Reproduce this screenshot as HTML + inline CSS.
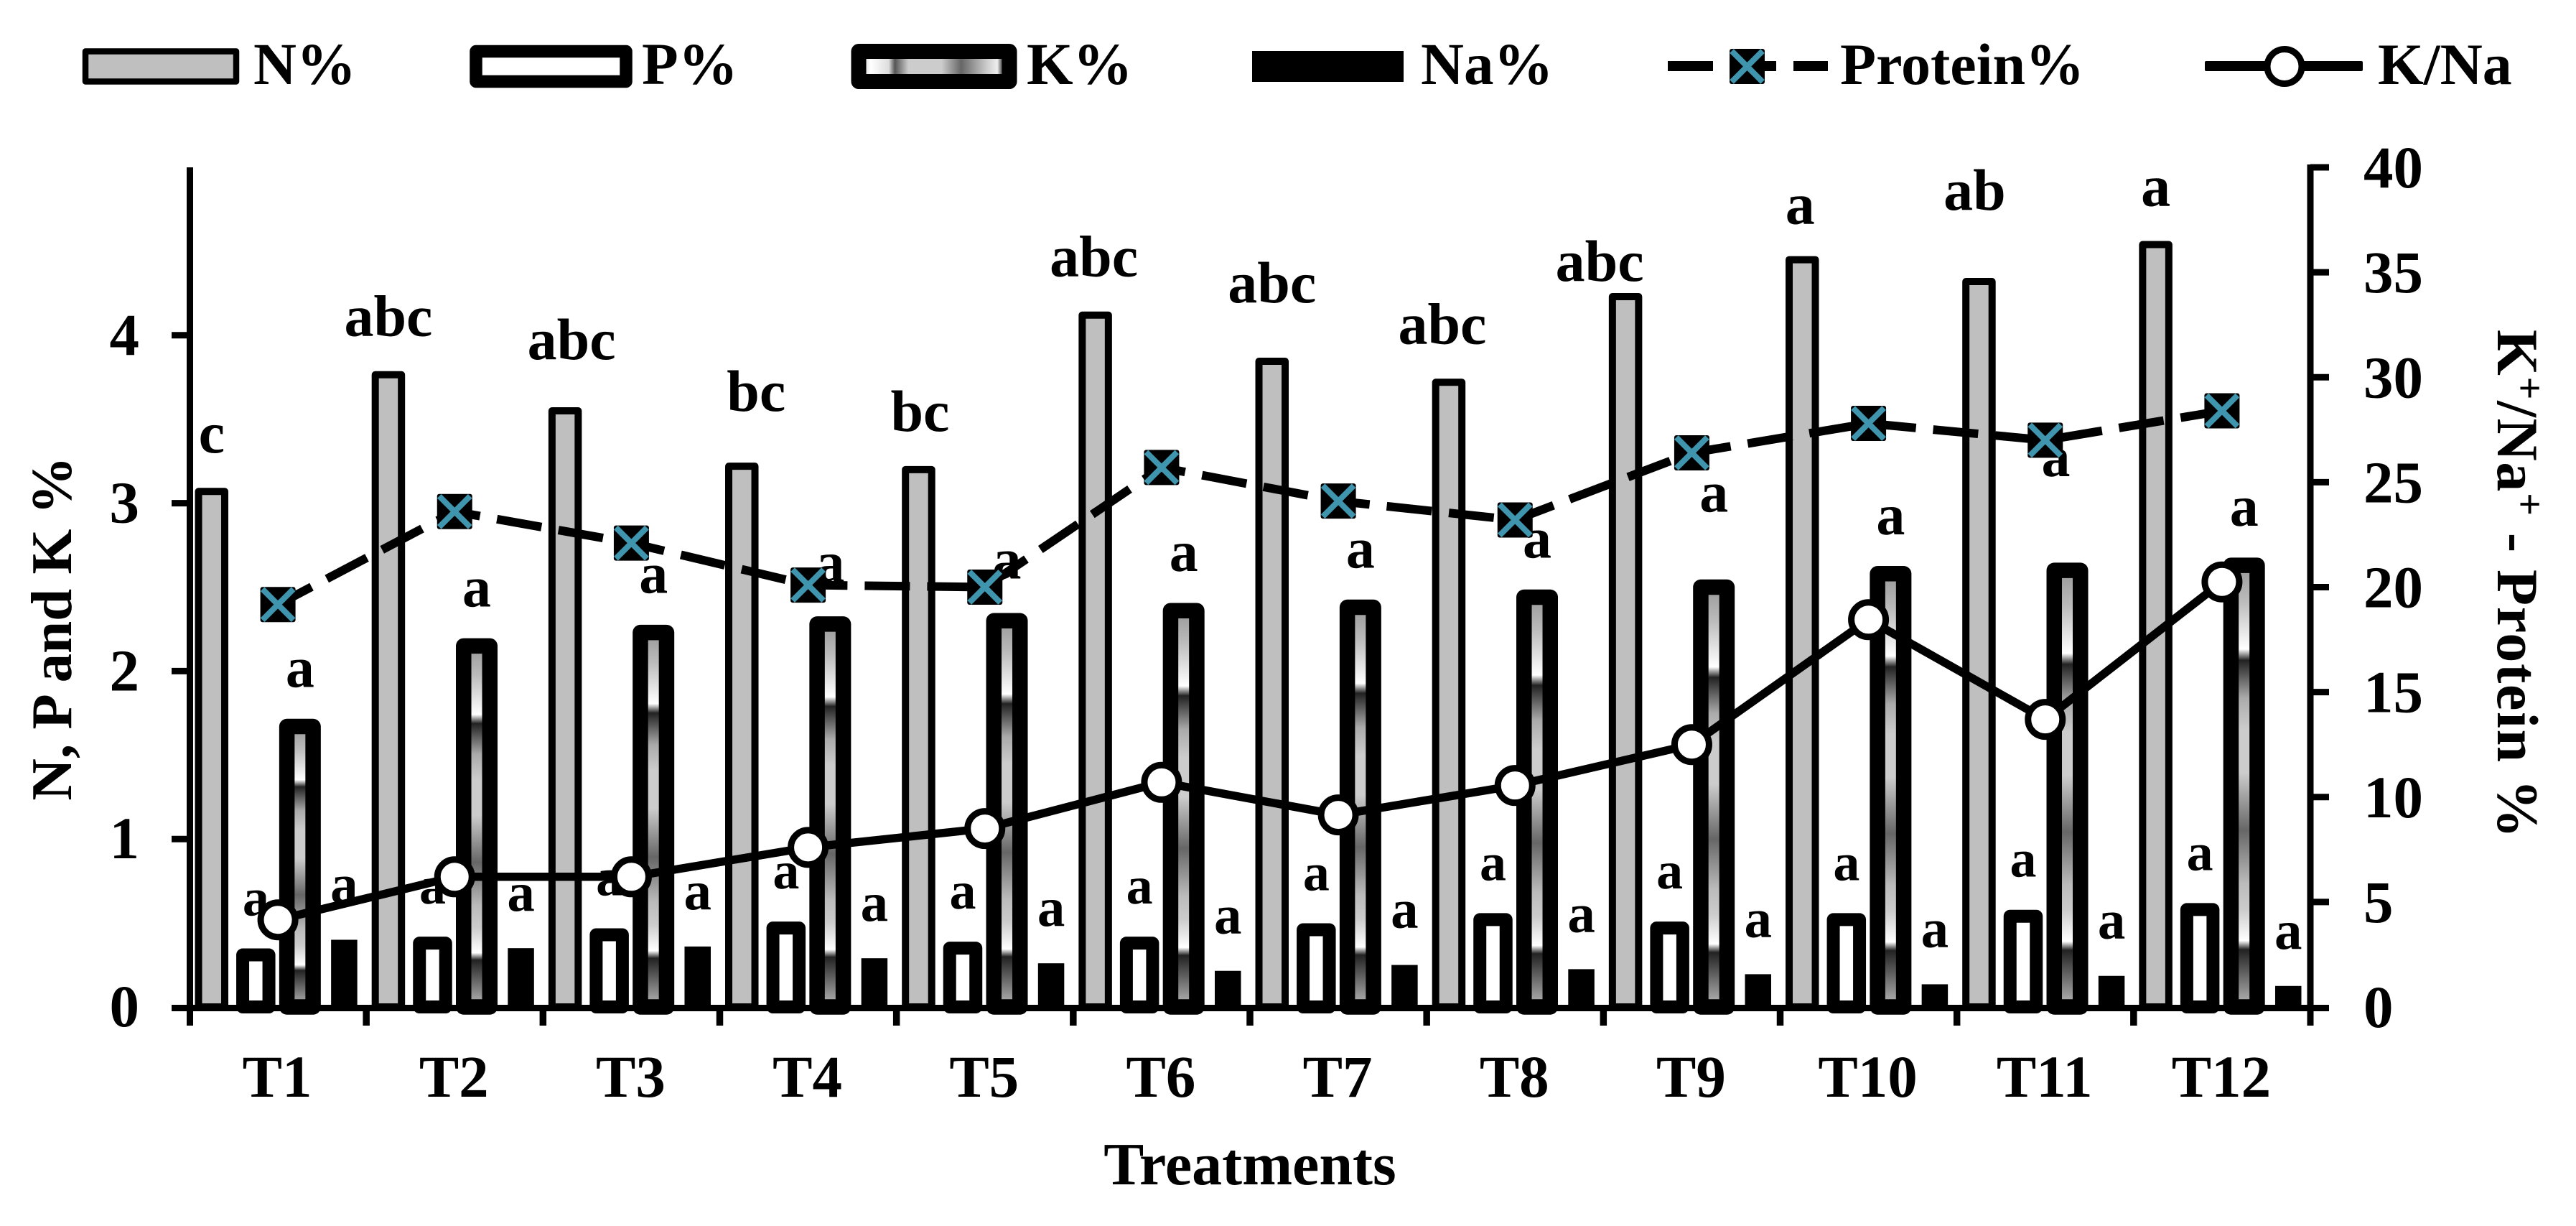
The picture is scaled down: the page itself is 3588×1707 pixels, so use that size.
<!DOCTYPE html>
<html lang="en">
<head>
<meta charset="utf-8">
<title>Treatments chart</title>
<style>
html,body{margin:0;padding:0;background:#fff;width:3588px;height:1707px;overflow:hidden}
svg{display:block}
text{font-family:"Liberation Serif","DejaVu Serif",serif;font-weight:bold;fill:#000}
</style>
</head>
<body>
<svg id="chart" xmlns="http://www.w3.org/2000/svg" width="3588" height="1707" viewBox="0 0 3588 1707">
  <defs>
    <linearGradient id="kv" x1="0" y1="0" x2="0" y2="1">
      <stop offset="0" stop-color="#999"/><stop offset=".08" stop-color="#bbb"/><stop offset=".19" stop-color="#fff"/>
      <stop offset=".215" stop-color="#222"/><stop offset=".3" stop-color="#aaa"/><stop offset=".37" stop-color="#ccc"/>
      <stop offset=".47" stop-color="#ccc"/><stop offset=".6" stop-color="#666"/><stop offset=".72" stop-color="#bbb"/>
      <stop offset=".78" stop-color="#ccc"/><stop offset=".85" stop-color="#fff"/><stop offset=".87" stop-color="#222"/>
      <stop offset="1" stop-color="#bbb"/>
    </linearGradient>
    <linearGradient id="kh" x1="0" y1="0" x2="1" y2="0">
      <stop offset="0" stop-color="#bbb"/><stop offset=".08" stop-color="#fff"/><stop offset=".2" stop-color="#ddd"/>
      <stop offset=".24" stop-color="#555"/><stop offset=".33" stop-color="#ccc"/><stop offset=".55" stop-color="#ccc"/>
      <stop offset=".68" stop-color="#666"/><stop offset=".85" stop-color="#ccc"/><stop offset=".92" stop-color="#eee"/>
      <stop offset=".96" stop-color="#222"/><stop offset="1" stop-color="#111"/>
    </linearGradient>
  </defs>

  <g>
    <g>
      <rect x="119" y="71.5" width="210" height="42" fill="#bfbfbf" stroke="#000" stroke-width="8.5" stroke-linejoin="round"/>
      <text x="353" y="117" font-size="83">N%</text>
    </g>
    <g>
      <rect x="663" y="71.5" width="209" height="42" fill="#fff" stroke="#000" stroke-width="17.5" stroke-linejoin="round"/>
      <text x="894" y="117" font-size="83">P%</text>
    </g>
    <g>
      <rect x="1196" y="71.5" width="210" height="42" fill="url(#kh)" stroke="#000" stroke-width="21" stroke-linejoin="round"/>
      <text x="1430" y="117" font-size="83">K%</text>
    </g>
    <g>
      <rect x="1744" y="71" width="211" height="43" fill="#000"/>
      <text x="1979" y="117" font-size="83">Na%</text>
    </g>
    <g>
      <rect x="2323" y="85" width="63" height="14" fill="#000"/>
      <rect x="2458" y="85" width="16" height="14" fill="#000"/>
      <rect x="2498" y="85" width="48" height="14" fill="#000"/>
      <rect x="2409" y="68" width="49" height="49" rx="3" fill="#000"/>
      <path d="M2412 71L2455 114M2455 71L2412 114" stroke="#3f94ae" stroke-width="8" fill="none"/>
      <text x="2563" y="117" font-size="82">Protein%</text>
    </g>
    <g>
      <rect x="3071" y="85" width="220" height="14" rx="2" fill="#000"/>
      <circle cx="3182" cy="92.5" r="24" fill="#fff" stroke="#000" stroke-width="9"/>
      <text x="3312" y="117" font-size="82">K/Na</text>
    </g>
  </g>

  <g id="bars"></g>
  <g id="axes"></g>
  <g id="letters"></g>
  <g id="lines"></g>

  <text x="1741" y="1649" font-size="84" text-anchor="middle">Treatments</text>
  <text transform="translate(99 875) rotate(-90)" font-size="81" text-anchor="middle">N, P and K %</text>
  <text transform="translate(3479 813) rotate(90)" font-size="82" text-anchor="middle" textLength="708">K<tspan dy="-26" font-size="56">+</tspan><tspan dy="26">/Na</tspan><tspan dy="-26" font-size="56">+</tspan><tspan dy="26"> - Protein %</tspan></text>
</svg>

<script>
var categories = ['T1','T2','T3','T4','T5','T6','T7','T8','T9','T10','T11','T12'];
var nValues = [3.07,3.765,3.55,3.22,3.2,4.12,3.845,3.72,4.23,4.45,4.32,4.54];
var pValues = [0.31,0.38,0.43,0.47,0.35,0.38,0.46,0.52,0.47,0.52,0.54,0.58];
var kValues = [1.67,2.15,2.23,2.28,2.30,2.36,2.38,2.44,2.50,2.58,2.60,2.63];
var naValues = [0.40,0.35,0.36,0.29,0.26,0.215,0.25,0.225,0.195,0.135,0.185,0.125];
var proteinValues = [19.17,23.6,22.1,20.1,20.0,25.7,24.1,23.2,26.4,27.8,27.0,28.4];
var kNaValues = [4.15,6.2,6.2,7.6,8.5,10.7,9.15,10.55,12.5,18.45,13.7,20.25];
var nLetters = ['c','abc','abc','bc','bc','abc','abc','abc','abc','a','ab','a'];
var pLetters = ['a','a','a','a','a','a','a','a','a','a','a','a'];
var kLetters = ['a','a','a','a','a','a','a','a','a','a','a','a'];
var naLetters = ['a','a','a','a','a','a','a','a','a','a','a','a'];
var leftTicks = ['0','1','2','3','4'];
var rightTicks = ['0','5','10','15','20','25','30','35','40'];

/* hand-placement nudges of the letters relative to their default spot above each bar */
var nLabelShiftX = [0,0,9,20,2,-2,0,-9,-36,-3,-6,0];
var nLabelShiftY = [0,0,-18,-23,0,0,-28,0,32,4,-46,0];
var kLabelShiftX = [0,0,0,0,0,0,0,0,0,0,-16,0];
var kLabelShiftY = [0,0,0,-4,-4,0,0,0,-50,0,-76,0];

var NS = 'http://www.w3.org/2000/svg';
var X0 = 264, X1 = 3218, Y0 = 1402, YTOP = 233;
var catW = (X1 - X0) / categories.length;
var slotW = catW / 4;
var barW = 36.5;
function yLeft(v){ return Y0 - v * (Y0 - YTOP) / 5; }
function yRight(v){ return Y0 - v * (Y0 - YTOP) / 40; }
function xCat(i){ return X0 + catW * (i + 0.5); }
function xSlot(i, s){ return X0 + catW * i + slotW * (s + 0.5); }
function make(tag, attrs, parent, txt){
  var e = document.createElementNS(NS, tag);
  for (var k in attrs) e.setAttribute(k, attrs[k]);
  if (txt !== undefined) e.textContent = txt;
  parent.appendChild(e);
  return e;
}
var gBars = document.getElementById('bars');
var gAxes = document.getElementById('axes');
var gLetters = document.getElementById('letters');
var gLines = document.getElementById('lines');

categories.forEach(function(c, i){
  var key = c.toLowerCase();
  var y, el;

  y = yLeft(nValues[i]);
  el = make('rect', {x: xSlot(i,0)-barW/2, y: y, width: barW, height: Y0-y, fill: '#bfbfbf', stroke: '#000', 'stroke-width': 10, 'stroke-linejoin': 'round'}, gBars);
  
  

  y = yLeft(pValues[i]);
  el = make('rect', {x: xSlot(i,1)-barW/2, y: y, width: barW, height: Y0-y, fill: '#fff', stroke: '#000', 'stroke-width': 18, 'stroke-linejoin': 'round'}, gBars);
  
  

  y = yLeft(kValues[i]);
  el = make('rect', {x: xSlot(i,2)-barW/2, y: y, width: barW, height: Y0-y, fill: 'url(#kv)', stroke: '#000', 'stroke-width': 21.5, 'stroke-linejoin': 'round'}, gBars);
  
  

  y = yLeft(naValues[i]);
  el = make('rect', {x: xSlot(i,3)-barW/2, y: y, width: barW, height: Y0-y, fill: '#000'}, gBars);
  
  

  el = make('text', {x: xSlot(i,0)+nLabelShiftX[i], y: yLeft(nValues[i])-54+nLabelShiftY[i], 'font-size': 82, 'text-anchor': 'middle'}, gLetters, nLetters[i]);
  
  

  el = make('text', {x: xSlot(i,1), y: yLeft(pValues[i])-55, 'font-size': 74, 'text-anchor': 'middle'}, gLetters, pLetters[i]);
  
  

  el = make('text', {x: xSlot(i,2)+kLabelShiftX[i], y: yLeft(kValues[i])-55+kLabelShiftY[i], 'font-size': 80, 'text-anchor': 'middle'}, gLetters, kLetters[i]);
  
  

  el = make('text', {x: xSlot(i,3), y: yLeft(naValues[i])-52, 'font-size': 77, 'text-anchor': 'middle'}, gLetters, naLetters[i]);
  
  

  el = make('text', {x: xCat(i)-1, y: 1527, 'font-size': 83, 'text-anchor': 'middle'}, gAxes, c);
  
  
});

/* axes */
var ax;
ax = make('line', {x1: X0+0.5, x2: X0+0.5, y1: YTOP, y2: 1428, stroke: '#000', 'stroke-width': 9}, gAxes);


ax = make('line', {x1: X1, x2: X1, y1: YTOP-4, y2: 1428, stroke: '#000', 'stroke-width': 9}, gAxes);


ax = make('line', {x1: 239, x2: 3244, y1: Y0+1.5, y2: Y0+1.5, stroke: '#000', 'stroke-width': 9}, gAxes);



for (var t = 1; t < categories.length; t++) {
  ax = make('line', {x1: X0+catW*t, x2: X0+catW*t, y1: Y0, y2: 1428, stroke: '#000', 'stroke-width': 9.5}, gAxes);
  
  
}
leftTicks.forEach(function(t){
  var y = yLeft(+t), el;
  if (+t === 0) {
    /* the zero tick is part of the x-axis line */
  } else {
    el = make('line', {x1: 239, x2: X0, y1: y, y2: y, stroke: '#000', 'stroke-width': 9}, gAxes);
    
    
  }
  el = make('text', {x: 194, y: y+27, 'font-size': 83, 'text-anchor': 'end'}, gAxes, t);
  
  
});
rightTicks.forEach(function(t){
  var y = yRight(+t), el;
  if (+t !== 0) {
    el = make('line', {x1: X1, x2: 3244, y1: y, y2: y, stroke: '#000', 'stroke-width': 9}, gAxes);
    
    
  }
  el = make('text', {x: 3292, y: y+28, 'font-size': 83}, gAxes, t);
  
  
});

/* lines */
var kNaPts = kNaValues.map(function(v,i){ return xCat(i)+','+yRight(v); }).join(' ');
var proteinPts = proteinValues.map(function(v,i){ return xCat(i)+','+yRight(v); }).join(' ');
var ln;
ln = make('polyline', {points: kNaPts, fill: 'none', stroke: '#000', 'stroke-width': 11.5, 'stroke-linejoin': 'round'}, gLines);


ln = make('polyline', {points: proteinPts, fill: 'none', stroke: '#000', 'stroke-width': 12, 'stroke-dasharray': '63 24', 'stroke-dashoffset': 10}, gLines);



kNaValues.forEach(function(v,i){
  var m = make('circle', {cx: xCat(i), cy: yRight(v), r: 24, fill: '#fff', stroke: '#000', 'stroke-width': 9}, gLines);
  
  
});
proteinValues.forEach(function(v,i){
  var cx = xCat(i), cy = yRight(v), s = 24.5, d = 21.5;
  var m = make('rect', {x: cx-s, y: cy-s, width: 2*s, height: 2*s, rx: 3, fill: '#000'}, gLines);
  
  
  var cross = make('path', {d: 'M'+(cx-d)+' '+(cy-d)+'L'+(cx+d)+' '+(cy+d)+'M'+(cx+d)+' '+(cy-d)+'L'+(cx-d)+' '+(cy+d), stroke: '#3f94ae', 'stroke-width': 8, fill: 'none'}, gLines);
  
  
});
</script>
</body>
</html>
